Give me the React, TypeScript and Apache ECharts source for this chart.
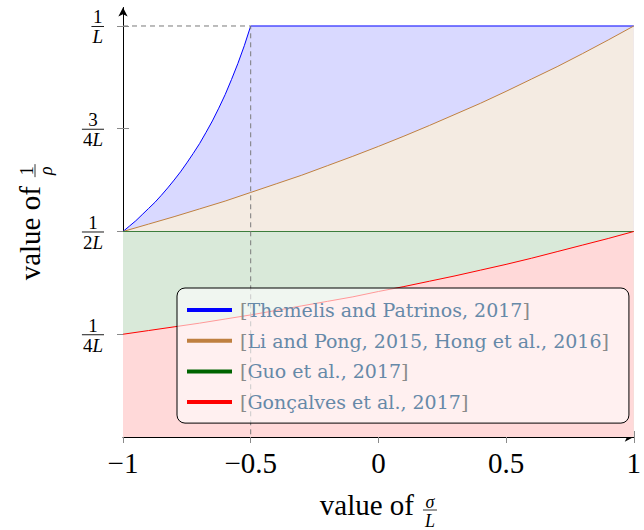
import React, { useEffect, useRef } from 'react';
import * as echarts from 'echarts';

// ---- data ----
const blueX = [-1, -0.975, -0.95, -0.925, -0.9, -0.875, -0.85, -0.825, -0.8, -0.775, -0.75, -0.725, -0.7, -0.675, -0.65, -0.625, -0.6, -0.575, -0.55, -0.525, -0.5, 1];
const blueY = [0.5, 0.513, 0.526, 0.541, 0.556, 0.571, 0.588, 0.606, 0.625, 0.645, 0.667, 0.69, 0.714, 0.741, 0.769, 0.8, 0.833, 0.87, 0.909, 0.952, 1.0, 1.0];
const brownX = [-1, -0.9, -0.8, -0.7, -0.6, -0.5, -0.4, -0.3, -0.2, -0.1, 0, 0.1, 0.2, 0.3, 0.4, 0.5, 0.6, 0.7, 0.8, 0.9, 1];
const brownY = [0.5, 0.518, 0.536, 0.555, 0.574, 0.595, 0.616, 0.637, 0.66, 0.683, 0.707, 0.732, 0.758, 0.785, 0.812, 0.841, 0.871, 0.901, 0.933, 0.966, 1.0];
const greenX = [-1, 1];
const greenY = [0.5, 0.5];
const redX = [-1, -0.9, -0.8, -0.7, -0.6, -0.5, -0.4, -0.3, -0.2, -0.1, 0, 0.1, 0.2, 0.3, 0.4, 0.5, 0.6, 0.7, 0.8, 0.9, 1];
const redY = [0.25, 0.259, 0.268, 0.277, 0.287, 0.297, 0.308, 0.319, 0.33, 0.341, 0.354, 0.366, 0.379, 0.392, 0.406, 0.42, 0.435, 0.451, 0.467, 0.483, 0.5];
const dashedX = [-1, -0.5, -0.5];
const dashedY = [1, 1, 0];

const seriesNames = [
  'Themelis and Patrinos, 2017',
  'Li and Pong, 2015, Hong et al., 2016',
  'Guo et al., 2017',
  'Gonçalves et al., 2017',
];
const xTickValues = [-1, -0.5, 0, 0.5, 1];
const yTickValues = [0.25, 0.5, 0.75, 1];
const yTickNumerators = ['1', '1', '3', '1'];
const yTickDenominatorDigits = ['4', '2', '4', ''];
const xTitleText = 'value of';
const xTitleFrac = ['σ', 'L'];
const yTitleText = 'value of';
const yTitleFrac = ['1', 'ρ'];

const SERIF = '"Liberation Serif", "Times New Roman", serif';
const LEG_FONT = '"DejaVu Serif", serif';

const pairs = (xs: number[], ys: number[]) => xs.map((x, i) => [x, ys[i]]);

let measureCtx: CanvasRenderingContext2D | null = null;
function tw(text: string, font: string): number {
  if (!measureCtx) measureCtx = document.createElement('canvas').getContext('2d');
  if (!measureCtx) return text.length * 10;
  measureCtx.font = font;
  return measureCtx.measureText(text).width;
}

export default function App() {
  const ref = useRef<HTMLDivElement>(null);
  useEffect(() => {
    if (!ref.current) return;
    const chart = echarts.init(ref.current, null, { renderer: 'svg' });

    const area = (name: string, xs: number[], ys: number[], color: string, fill: string, width: number, z: number) => ({
      name,
      type: 'line',
      data: pairs(xs, ys),
      showSymbol: false,
      symbol: 'none',
      silent: true,
      xAxisIndex: 0,
      yAxisIndex: 0,
      z,
      lineStyle: { color, width },
      itemStyle: { color },
      areaStyle: { color: fill, opacity: 1, origin: 'start' },
    });

    const xAxisBase = {
      type: 'value',
      min: -1,
      max: 1,
      interval: 0.5,
      position: 'bottom',
      splitLine: { show: false },
    };
    const yAxisBase = {
      type: 'value',
      min: 0,
      max: 1.045,
      position: 'left',
      splitLine: { show: false },
      axisLabel: { show: false },
    };

    const option: any = {
      animation: false,
      grid: { left: 123, right: 3, top: 7.5, bottom: 93, containLabel: false },
      xAxis: [
        {
          ...xAxisBase,
          axisLine: { show: true, onZero: false, symbol: ['none', 'arrow'], symbolSize: [7, 9], lineStyle: { color: '#000', width: 1 } },
          axisTick: { show: true, inside: false, length: 6, lineStyle: { color: '#8a8a8a', width: 1 } },
          axisLabel: {
            show: true,
            margin: 11,
            fontFamily: SERIF,
            fontSize: 29,
            color: '#000',
            showMinLabel: true,
            showMaxLabel: true,
            formatter: (v: number) => (xTickValues.includes(v) ? String(v).replace('-', '\u2212') : ''),
          },
        },
        {
          ...xAxisBase,
          axisLine: { show: false, onZero: false },
          axisTick: { show: true, inside: true, length: 6, lineStyle: { color: '#8a8a8a', width: 1 } },
          axisLabel: { show: false },
        },
      ],
      yAxis: [
        {
          ...yAxisBase,
          axisLine: { show: true, onZero: false, symbol: ['none', 'arrow'], symbolSize: [7, 9], lineStyle: { color: '#000', width: 1 } },
          axisTick: { show: true, inside: false, length: 6, customValues: yTickValues, lineStyle: { color: '#8a8a8a', width: 1 } },
        },
        {
          ...yAxisBase,
          axisLine: { show: false, onZero: false },
          axisTick: { show: true, inside: true, length: 6, customValues: yTickValues, lineStyle: { color: '#8a8a8a', width: 1 } },
        },
      ],
      legend: {
        show: true,
        orient: 'vertical',
        left: 177,
        top: 288,
        icon: 'rect',
        itemWidth: 45,
        itemHeight: 4,
        itemGap: 8.7,
        selectedMode: false,
        backgroundColor: 'rgba(255,255,255,0.6)',
        borderColor: '#000',
        borderWidth: 1,
        borderRadius: 8,
        padding: [11, 20, 10, 10],
        data: [
          { name: seriesNames[0], itemStyle: { color: '#0000ff' } },
          { name: seriesNames[1], itemStyle: { color: '#bf8040' } },
          { name: seriesNames[2], itemStyle: { color: '#006400' } },
          { name: seriesNames[3], itemStyle: { color: '#ff0000' } },
        ],
        formatter: (n: string) => `{gl|[}{t|${n}}{g|]}`,
        textStyle: {
          fontFamily: LEG_FONT,
          fontSize: 19,
          lineHeight: 22,
          color: '#6689a8',
          rich: {
            gl: { color: '#8a8a8a', fontFamily: LEG_FONT, fontSize: 19, lineHeight: 22, padding: [0, 0, 0, 3] },
            g: { color: '#8a8a8a', fontFamily: LEG_FONT, fontSize: 19, lineHeight: 22 },
            t: { color: '#6689a8', fontFamily: LEG_FONT, fontSize: 19, lineHeight: 22 },
          },
        },
      },
      series: [
        area(seriesNames[0], blueX, blueY, '#0000ff', '#d9d9ff', 1, 2),
        area(seriesNames[1], brownX, brownY, '#bf8040', '#f4ebe2', 1, 2),
        area(seriesNames[2], greenX, greenY, '#3c7d3c', '#d9e9d9', 1.2, 2),
        area(seriesNames[3], redX, redY, '#ff0000', '#ffd9d9', 1, 2),
        {
          name: 'guide',
          type: 'line',
          data: pairs(dashedX, dashedY),
          showSymbol: false,
          symbol: 'none',
          silent: true,
          z: 3,
          lineStyle: { color: '#7a7a7a', width: 1, type: [5, 4] },
        },
      ],
    };
    chart.setOption(option);

    // ---- graphics: fraction tick labels and axis titles ----
    const graphics: any[] = [];
    const toPx = (x: number, y: number) => chart.convertToPixel({ xAxisIndex: 0, yAxisIndex: 0 }, [x, y]) as number[];
    const F = 19;
    const upFont = `${F}px ${SERIF}`;
    const itFont = `italic ${F}px ${SERIF}`;
    const axisX = toPx(-1, 0)[0];
    yTickValues.forEach((v, i) => {
      const p = toPx(-1, v);
      const numW = tw(yTickNumerators[i], upFont);
      const denW = tw(yTickDenominatorDigits[i], upFont) + tw('L', itFont);
      const barW = Math.max(numW, denW) + 2;
      const barRight = axisX - 19;
      const cx = barRight - barW / 2;
      graphics.push({
        type: 'line',
        silent: true,
        shape: { x1: barRight - barW, y1: p[1] + 0.5, x2: barRight, y2: p[1] + 0.5 },
        style: { stroke: '#000', lineWidth: 0.9 },
        z: 10,
      });
      graphics.push({
        type: 'text',
        silent: true,
        x: cx,
        y: p[1] - 9,
        z: 10,
        style: { text: yTickNumerators[i], fontFamily: SERIF, fontSize: F, fill: '#000', align: 'center', verticalAlign: 'middle' },
      });
      const denText = (yTickDenominatorDigits[i] ? `{r|${yTickDenominatorDigits[i]}}` : '') + '{i|L}';
      graphics.push({
        type: 'text',
        silent: true,
        x: cx,
        y: p[1] + 11,
        z: 10,
        style: {
          text: denText,
          fill: '#000',
          align: 'center',
          verticalAlign: 'middle',
          rich: {
            r: { fontFamily: SERIF, fontSize: F, fill: '#000' },
            i: { fontFamily: SERIF, fontSize: F, fontStyle: 'italic', fill: '#000' },
          },
        },
      });
    });

    const TF = 29;
    const SF = 18;
    const titleGroup = (text: string, num: string, numItalic: boolean, den: string) => {
      const wText = tw(text, `${TF}px ${SERIF}`);
      const numW = tw(num, `${numItalic ? 'italic ' : ''}${SF}px ${SERIF}`);
      const denW = tw(den, `italic ${SF}px ${SERIF}`);
      const fw = Math.max(numW, denW) + 4;
      const total = wText + 9 + fw;
      const x0 = -total / 2;
      const fx = x0 + wText + 9;
      return [
        {
          type: 'text',
          x: x0,
          y: -0.338 * TF,
          style: { text, fontFamily: SERIF, fontSize: TF, fill: '#000', align: 'left', verticalAlign: 'middle' },
        },
        { type: 'line', shape: { x1: fx, y1: -5, x2: fx + fw, y2: -5 }, style: { stroke: '#000', lineWidth: 0.8 } },
        {
          type: 'text',
          x: fx + fw / 2,
          y: -13.5,
          style: { text: num, fontFamily: SERIF, fontSize: SF, fontStyle: numItalic ? 'italic' : 'normal', fill: '#000', align: 'center', verticalAlign: 'middle' },
        },
        {
          type: 'text',
          x: fx + fw / 2,
          y: 5.5,
          style: { text: den, fontFamily: SERIF, fontSize: SF, fontStyle: 'italic', fill: '#000', align: 'center', verticalAlign: 'middle' },
        },
      ];
    };
    const pl = toPx(-1, 0);
    const pr = toPx(1, 0);
    const ptop = toPx(-1, 1.045);
    graphics.push({
      type: 'group',
      silent: true,
      x: (pl[0] + pr[0]) / 2,
      y: pl[1] + 78,
      children: titleGroup(xTitleText, xTitleFrac[0], true, xTitleFrac[1]),
    });
    graphics.push({
      type: 'group',
      silent: true,
      x: pl[0] - 83,
      y: (pl[1] + ptop[1]) / 2,
      rotation: Math.PI / 2,
      children: titleGroup(yTitleText, yTitleFrac[0], false, yTitleFrac[1]),
    });
    chart.setOption({ graphic: graphics });

    return () => chart.dispose();
  }, []);

  return <div ref={ref} style={{ position: 'absolute', left: 0, top: 0, width: 644, height: 530 }} />;
}
